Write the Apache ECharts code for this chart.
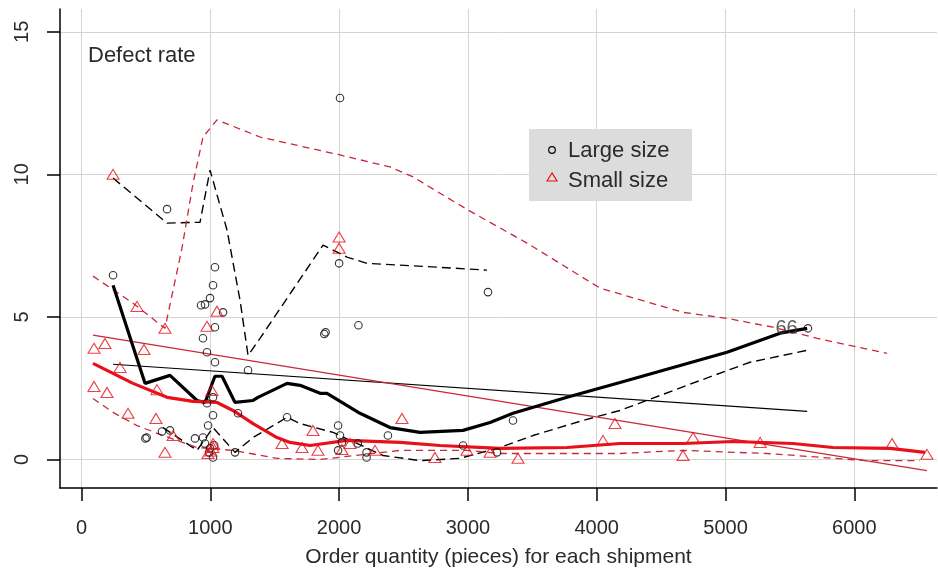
<!DOCTYPE html>
<html>
<head>
<meta charset="utf-8">
<script src="https://cdn.jsdelivr.net/npm/echarts@6/dist/echarts.min.js"></script>
<style>
  html, body { margin: 0; padding: 0; background: #fff; }
  #chart { width: 938px; height: 577px; }
</style>
</head>
<body>
<div id="chart"></div>
<script>
// Tick positions
const xTicks = [0, 1000, 2000, 3000, 4000, 5000, 6000];
const yTicks = [0, 5, 10, 15];

// Observed defect rates, large-size parts: [order quantity, defect rate]
const largeSize = [
  [245, 6.46], [664, 8.78], [506, 0.77], [496, 0.74], [625, 0.98], [687, 1.02],
  [1036, 6.74], [1021, 6.11], [998, 5.66], [959, 5.44], [928, 5.41], [1099, 5.16],
  [1036, 4.64], [943, 4.25], [974, 3.76], [1036, 3.41], [1021, 2.18], [974, 1.97],
  [1021, 1.55], [983, 1.19], [881, 0.74], [943, 0.77], [959, 0.56], [998, 0.39],
  [1021, 0.07], [1030, 0.50], [990, 0.25], [1192, 0.25], [1215, 1.62], [1293, 3.13],
  [1596, 1.48], [2007, 12.68], [2000, 6.88], [3156, 5.87], [2150, 4.71], [1885, 4.40],
  [1895, 4.46], [1992, 1.19], [2007, 0.84], [2022, 0.60], [2146, 0.56], [2213, 0.25],
  [2213, 0.07], [2379, 0.84], [1992, 0.32], [2962, 0.49], [3350, 1.37], [3226, 0.25]
];
// Point identified by its row number
const labelledPoint = [5640, 4.6];
const labelledPointName = '66';

// Observed defect rates, small-size parts
const smallSize = [
  [245, 10.0], [431, 5.37], [648, 4.60], [1052, 5.20], [974, 4.67], [182, 4.07],
  [97, 3.90], [485, 3.86], [299, 3.23], [97, 2.56], [198, 2.35], [361, 1.62],
  [578, 1.44], [711, 0.84], [648, 0.25], [586, 2.45], [1013, 2.42], [1021, 0.42],
  [982, 0.21], [1021, 0.56], [1005, 0.30], [2000, 7.80], [2000, 7.41],
  [1797, 1.02], [1557, 0.56], [1712, 0.42], [1836, 0.32], [2488, 1.44], [2279, 0.32],
  [2085, 0.56], [2022, 0.35], [2744, 0.07], [2993, 0.32], [3172, 0.25], [3389, 0.04],
  [4049, 0.67], [4142, 1.26], [4748, 0.77], [4670, 0.14], [5269, 0.60], [6293, 0.56],
  [6564, 0.18]
];

// Smoothed trend and its band, large size
const largeSmooth = [
  [245, 6.11], [493, 2.67], [687, 2.95], [897, 2.07], [959, 2.00], [1036, 2.92],
  [1091, 2.92], [1192, 2.00], [1332, 2.07], [1370, 2.18], [1596, 2.67], [1697, 2.60],
  [1852, 2.32], [1906, 2.32], [2162, 1.62], [2395, 1.12], [2628, 0.95], [2962, 1.02],
  [3172, 1.30], [3350, 1.62], [3770, 2.18], [4181, 2.70], [5012, 3.76], [5424, 4.43],
  [5634, 4.60]
];
const largeUpper = [
  [245, 9.87], [664, 8.29], [920, 8.32], [998, 10.15], [1130, 8.04], [1231, 5.58],
  [1293, 3.65], [1386, 4.25], [1875, 7.52], [2061, 7.10], [2217, 6.88], [2783, 6.74],
  [3148, 6.64]
];
const largeLower = [
  [633, 1.12], [897, 0.32], [1021, 1.12], [1192, 0.25], [1332, 0.77], [1596, 1.48],
  [1697, 1.26], [1953, 0.95], [2341, 0.14], [2628, -0.04], [2939, 0.04], [3249, 0.42],
  [3505, 0.84], [3893, 1.37], [4181, 1.72], [4802, 2.77], [5190, 3.41], [5634, 3.83]
];
// Linear fit, large size
const largeFit = [[245, 3.34], [5634, 1.69]];

// Smoothed trend and its band, small size
const smallSmooth = [
  [89, 3.37], [400, 2.67], [664, 2.18], [866, 2.04], [1052, 2.00], [1176, 1.72],
  [1332, 1.26], [1518, 0.77], [1619, 0.60], [1774, 0.49], [2061, 0.67], [2473, 0.60],
  [2783, 0.49], [3249, 0.39], [3770, 0.42], [4181, 0.56], [4670, 0.56], [5059, 0.63],
  [5524, 0.56], [5835, 0.42], [6277, 0.39], [6549, 0.25]
];
const smallUpper = [
  [89, 6.43], [400, 5.48], [648, 4.60], [780, 7.41], [866, 9.69], [943, 11.31],
  [1052, 11.91], [1386, 11.31], [2007, 10.68], [2395, 10.26], [2574, 9.91], [2783, 9.34],
  [3001, 8.75], [3459, 7.59], [4026, 6.01], [4670, 5.16], [5012, 4.95], [5369, 4.64],
  [5711, 4.25], [6254, 3.72]
];
const smallLower = [
  [89, 2.14], [245, 1.65], [431, 1.19], [633, 0.84], [897, 0.42], [1176, 0.32],
  [1518, 0.04], [1852, 0.00], [2473, 0.32], [2993, 0.32], [3249, 0.21], [4181, 0.21],
  [4670, 0.32], [5322, 0.21], [6099, -0.04], [6510, -0.04]
];
// Linear fit, small size
const smallFit = [[89, 4.36], [6564, -0.39]];

const FONT = '"Liberation Sans", Arial, sans-serif';
const RED = '#e8101a';
const DARK_RED = '#c8283a';

function lineSeries(name, data, color, width, dashed) {
  return {
    name: name,
    type: 'line',
    data: data,
    symbol: 'none',
    smooth: false,
    silent: true,
    z: 3,
    lineStyle: {
      color: color,
      width: width,
      type: dashed ? dashed : 'solid'
    }
  };
}

const chart = echarts.init(document.getElementById('chart'), null, { renderer: 'canvas' });

chart.setOption({
  animation: false,
  backgroundColor: '#fff',
  grid: { left: 60, right: 1, top: 9, bottom: 89, containLabel: false },
  xAxis: {
    type: 'value',
    min: -167,
    max: 6642,
    name: 'Order quantity (pieces) for each shipment',
    nameLocation: 'middle',
    nameGap: 59,
    nameTextStyle: { fontFamily: FONT, fontSize: 21, color: '#2a2a2a' },
    axisLine: { onZero: false, lineStyle: { color: '#000', width: 1.5 } },
    axisTick: { customValues: xTicks, length: 13, lineStyle: { color: '#000', width: 1.5 } },
    axisLabel: {
      customValues: xTicks, margin: 30, fontFamily: FONT, fontSize: 20, color: '#2a2a2a',
      formatter: function (v) { return String(v); }
    },
    splitLine: { show: true, lineStyle: { color: '#d4d4d4', width: 1 } }
  },
  yAxis: {
    type: 'value',
    min: -1,
    max: 15.8,
    axisLine: { onZero: false, lineStyle: { color: '#000', width: 1.5 } },
    axisTick: { customValues: yTicks, length: 13, lineStyle: { color: '#000', width: 1.5 } },
    axisLabel: {
      customValues: yTicks, rotate: 90, margin: 28, fontFamily: FONT, fontSize: 20, color: '#2a2a2a',
      formatter: function (v) { return String(v); }
    },
    splitLine: { show: true, lineStyle: { color: '#d4d4d4', width: 1 } }
  },
  graphic: [
    {
      type: 'text', left: 88, top: 45, z: 100,
      style: { text: 'Defect rate', font: '22px ' + FONT, fill: '#2a2a2a' }
    },
    {
      type: 'group', left: 529, top: 129, z: 100,
      children: [
        { type: 'rect', z: 100, shape: { x: 0, y: 0, width: 163, height: 72 }, style: { fill: '#dcdcdc' } },
        { type: 'circle', z: 101, shape: { cx: 23, cy: 21, r: 3.3 }, style: { fill: 'none', stroke: '#000', lineWidth: 1.2 } },
        { type: 'polygon', z: 101, shape: { points: [[23, 44], [18, 52], [28, 52]] }, style: { fill: 'none', stroke: RED, lineWidth: 1.2 } },
        { type: 'text', z: 101, x: 39, y: 22, style: { text: 'Large size', font: '22px ' + FONT, fill: '#2a2a2a', verticalAlign: 'middle' } },
        { type: 'text', z: 101, x: 39, y: 52, style: { text: 'Small size', font: '22px ' + FONT, fill: '#2a2a2a', verticalAlign: 'middle' } }
      ]
    }
  ],
  series: [
    lineSeries('Large band upper', largeUpper, '#000', 1.4, [9, 5]),
    lineSeries('Large band lower', largeLower, '#000', 1.4, [9, 5]),
    lineSeries('Small band upper', smallUpper, DARK_RED, 1.3, [7, 5]),
    lineSeries('Small band lower', smallLower, DARK_RED, 1.3, [7, 5]),
    lineSeries('Large linear fit', largeFit, '#000', 1.2),
    lineSeries('Small linear fit', smallFit, DARK_RED, 1.2),
    lineSeries('Large trend', largeSmooth, '#000', 3.2),
    lineSeries('Small trend', smallSmooth, RED, 3.2),
    {
      name: 'Large size',
      type: 'scatter',
      data: largeSize,
      symbol: 'circle',
      symbolSize: 7.5,
      z: 4,
      itemStyle: { color: 'rgba(0,0,0,0)', borderColor: '#000', borderWidth: 1.1 }
    },
    {
      name: 'Large size (labelled)',
      type: 'scatter',
      data: [labelledPoint],
      symbol: 'circle',
      symbolSize: 7.5,
      z: 4,
      itemStyle: { color: 'rgba(0,0,0,0)', borderColor: '#000', borderWidth: 1.1 },
      label: {
        show: true, position: 'left', distance: 6,
        formatter: labelledPointName,
        fontFamily: FONT, fontSize: 20, color: '#333'
      }
    },
    {
      name: 'Small size',
      type: 'scatter',
      data: smallSize,
      symbol: 'triangle',
      symbolSize: [12, 10],
      z: 4,
      itemStyle: { color: 'rgba(0,0,0,0)', borderColor: RED, borderWidth: 1.1 }
    }
  ]
});
</script>
</body>
</html>
